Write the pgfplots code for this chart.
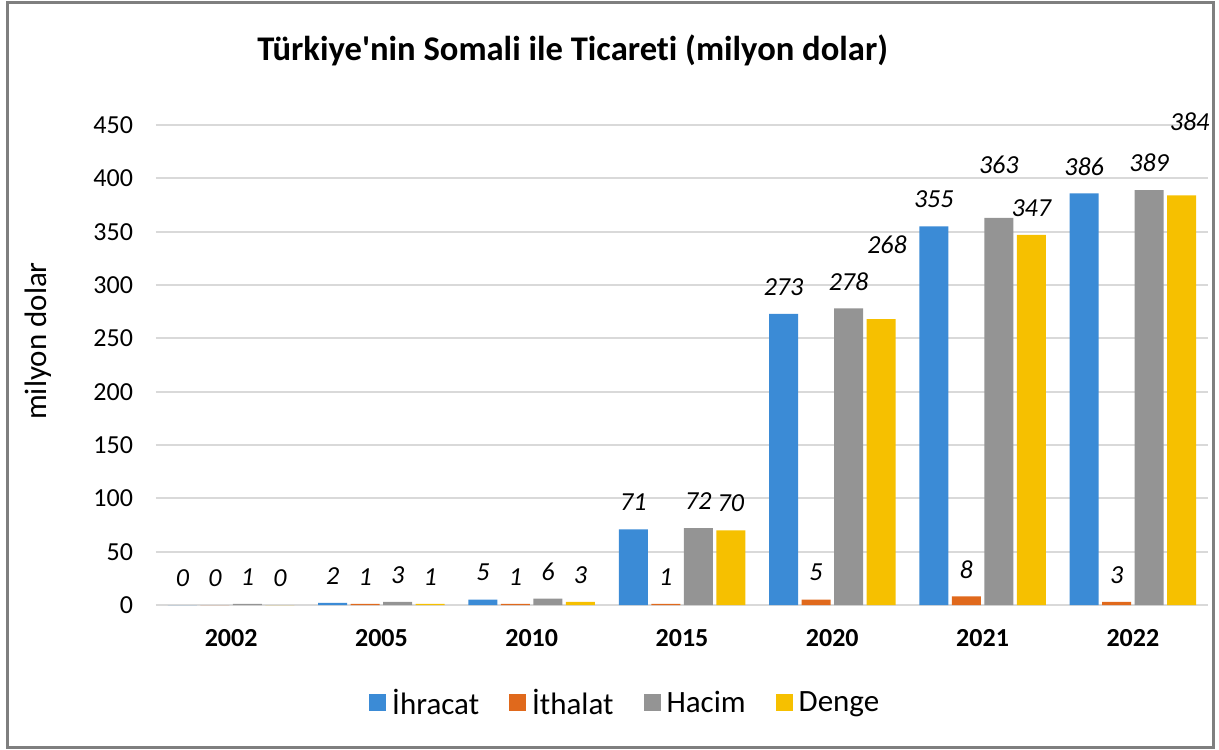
\documentclass[border=0pt]{standalone}
\usepackage{pgfplots}
\pgfplotsset{compat=1.18}
\usepackage{pgfplotstable}
\usepackage{fontspec}
\setmainfont{Carlito}
\newfontfamily\titlefont{Carlito}[Ligatures=CommonOff]

\definecolor{cblue}{HTML}{3B8BD6}
\definecolor{corg}{HTML}{E0691C}
\definecolor{cgray}{HTML}{949494}
\definecolor{cyel}{HTML}{F6C000}
\definecolor{gridc}{HTML}{D9D9D9}
\definecolor{framec}{HTML}{7F7F7F}

% x y dx dy  (dx, dy = extra label offset in pt)
\pgfplotstableread{
x y dx dy
0 0 0 0
1 2 0 0
2 5 0 0
3 71 0 0
4 273 0 0
5 355 0 0
6 386 0 0
}\ihracat
\pgfplotstableread{
x y dx dy
0 0 0 0
1 1 0 0
2 1 0 0
3 1 0 0
4 5 0 0
5 8 0 0
6 3 0 0
}\ithalat
\pgfplotstableread{
x y dx dy
0 1 0 0
1 3 0 0
2 6 0 0
3 72 0 0
4 278 0 0
5 363 0 13
6 389 0 0
}\hacim
\pgfplotstableread{
x y dx dy
0 0 0 0
1 1 0 0
2 3 0 0
3 70 0 0
4 268 3 23.5
5 347 0 0
6 384 4 23.5
}\denge

\begin{document}
\begin{tikzpicture}
\useasboundingbox (-78pt,-72pt) rectangle (531.5pt,302.5pt);
\begin{axis}[
  scale only axis,
  width=526pt, height=240pt,
  ybar=1.75pt, bar width=14.5pt,
  xmin=-0.5, xmax=6.5,
  ymin=0, ymax=450,
  ytick={0,50,...,450},
  xtick=data,
  xticklabels={2002,2005,2010,2015,2020,2021,2022},
  ymajorgrids, grid style={gridc, line width=0.9pt},
  axis line style={draw=none},
  major tick length=0pt,
  /pgf/number format/assume math mode=true,
  yticklabel style={font=\fontsize{13}{15}\selectfont, xshift=-8pt},
  xticklabel style={font=\fontsize{13}{15}\selectfont\bfseries, yshift=-8.5pt},
  ylabel={milyon dolar},
  every axis y label/.style={at={(axis description cs:-0.112,0.55)}, rotate=90, anchor=center, font=\fontsize{15.5}{18}\selectfont},
  clip=false,
  visualization depends on={\thisrow{dx} \as \dx},
  visualization depends on={\thisrow{dy} \as \dy},
  nodes near coords,
  nodes near coords style={font=\fontsize{13}{15}\selectfont\itshape, anchor=center, black,
     xshift={\dx*1pt}, yshift={(13.5+\dy)*1pt},
     /pgf/number format/assume math mode=true},
  legend style={at={(axis description cs:0.447,-0.204)}, anchor=center, draw=none,
     font=\fontsize{15.5}{18}\selectfont, legend columns=-1,
     /tikz/every even column/.append style={column sep=13pt},
     /tikz/every odd column/.append style={column sep=1pt}},
  legend image code/.code={\path[#1, draw=none] (0pt,-4.25pt) rectangle (8.5pt,4.25pt);},
]
\addplot[draw=none, fill=cblue] table[x=x,y=y] {\ihracat};
\addplot[draw=none, fill=corg] table[x=x,y=y] {\ithalat};
\addplot[draw=none, fill=cgray] table[x=x,y=y] {\hacim};
\addplot[draw=none, fill=cyel] table[x=x,y=y] {\denge};
\legend{İhracat, İthalat, Hacim, Denge}
\node[font=\fontsize{17.3}{20}\selectfont\titlefont\bfseries, anchor=center] at (axis description cs:0.396,1.156) {Türkiye'nin Somali ile Ticareti (milyon dolar)};
\end{axis}
\draw[framec, line width=1.5pt] (-74pt,-71pt) rectangle (528.5pt,301pt);
\end{tikzpicture}
\end{document}
